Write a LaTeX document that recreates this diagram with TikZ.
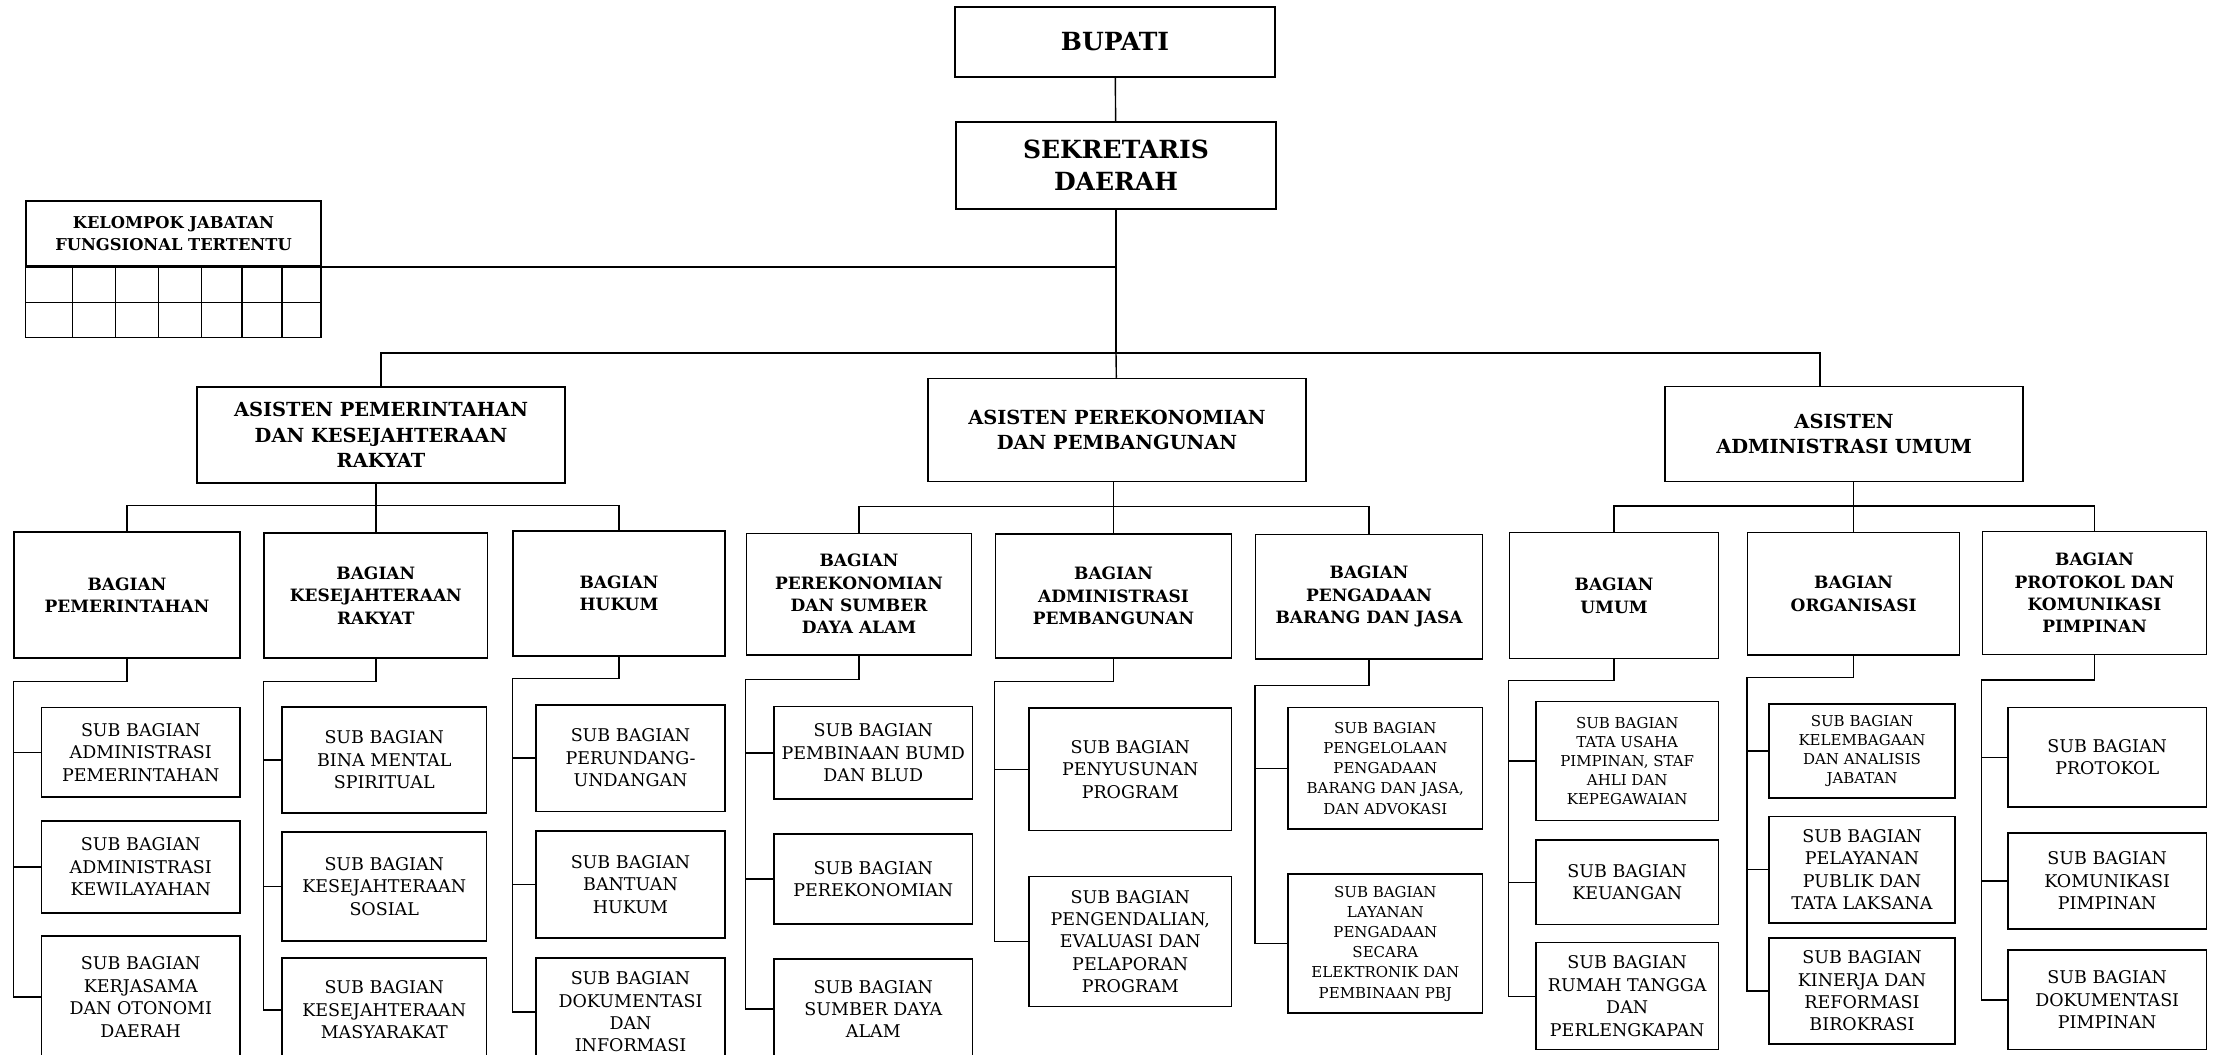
\documentclass[tikz,border=0pt]{standalone}
\usepackage{fontspec}
\setmainfont{DejaVu Serif}
\usepackage{tikz}
\usetikzlibrary{positioning,calc}

\begin{document}
\begin{tikzpicture}[
    x=1pt, y=-1pt,
    box/.style={rectangle, draw, line width=1.5pt, align=center, inner sep=1pt},
    topbox/.style={box, font=\bfseries\fontsize{25}{32}\selectfont},
    astbox/.style={box, font=\bfseries\fontsize{19.4}{25.5}\selectfont},
    unitbox/.style={box, font=\bfseries\fontsize{17}{22.3}\selectfont},
    kjfbox/.style={box, font=\bfseries\fontsize{16.3}{22.6}\selectfont},
    subbox/.style={box, font=\fontsize{17.5}{22.4}\selectfont},
    subsmall/.style={box, font=\fontsize{15}{18.8}\selectfont},
    submid/.style={box, font=\fontsize{15}{20.2}\selectfont},
    link/.style={line width=1.4pt}
]
    \useasboundingbox (0,0) rectangle (2215,1054);
    \clip (0,0) rectangle (2215,1054);

    % top
    \node[topbox, minimum width=320pt, minimum height=70pt] (bupati) at (1115,42) {BUPATI};
    \node[topbox, minimum width=320pt, minimum height=87pt] (sekda) at (1116,165.5) {SEKRETARIS\\DAERAH};
    \node[kjfbox, minimum width=295pt, minimum height=65.3pt] (kjf) at (173.5,233.4) {KELOMPOK JABATAN\\FUNGSIONAL TERTENTU};
    \coordinate (hub) at (1116,353);

    % grid under the functional group
    \draw[line width=1.5pt] (kjf.south west) rectangle (321,337.7);
    \draw[line width=1.5pt] (26,302.7) -- (321,302.7);
    \foreach \x in {72.7,115.7,158.7,201.3,242,282}
        \draw[line width=1.5pt] (\x,266) -- (\x,337.7);

    % assistants
    \node[astbox, minimum width=368pt, minimum height=96pt] (as1) at (381,435) {ASISTEN PEMERINTAHAN\\DAN KESEJAHTERAAN\\RAKYAT};
    \node[astbox, minimum width=378pt, minimum height=103pt] (as2) at (1117,430) {ASISTEN PEREKONOMIAN\\DAN PEMBANGUNAN};
    \node[astbox, minimum width=358pt, minimum height=95pt] (as3) at (1844,434) {ASISTEN\\ADMINISTRASI UMUM};

    % bagian
    \node[unitbox, minimum width=226pt, minimum height=126pt] (bg1) at (127,595) {BAGIAN\\PEMERINTAHAN};
    \node[unitbox, minimum width=223.5pt, minimum height=125pt] (bg2) at (375.8,595.5) {BAGIAN\\KESEJAHTERAAN\\RAKYAT};
    \node[unitbox, minimum width=212pt, minimum height=125pt] (bg3) at (619,593.5) {BAGIAN\\HUKUM};
    \node[unitbox, minimum width=225pt, minimum height=121.5pt] (bg4) at (859,594) {BAGIAN\\PEREKONOMIAN\\DAN SUMBER\\DAYA ALAM};
    \node[unitbox, minimum width=236pt, minimum height=124pt] (bg5) at (1113.5,596) {BAGIAN\\ADMINISTRASI\\PEMBANGUNAN};
    \node[unitbox, minimum width=226.6pt, minimum height=124.4pt] (bg6) at (1369,596.6) {BAGIAN\\PENGADAAN\\BARANG DAN JASA};
    \node[unitbox, minimum width=209pt, minimum height=126pt] (bg7) at (1614,595.7) {BAGIAN\\UMUM};
    \node[unitbox, minimum width=212pt, minimum height=122.4pt] (bg8) at (1853.6,593.8) {BAGIAN\\ORGANISASI};
    \node[unitbox, minimum width=224pt, minimum height=122.6pt] (bg9) at (2094.5,593) {BAGIAN\\PROTOKOL DAN\\KOMUNIKASI\\PIMPINAN};

    % sub bagian
    \node[subbox, minimum width=198.5pt, minimum height=89.5pt] (s11) at (140.75,752.25) {SUB BAGIAN\\ADMINISTRASI\\PEMERINTAHAN};
    \node[subbox, minimum width=198.5pt, minimum height=92pt] (s12) at (140.75,867) {SUB BAGIAN\\ADMINISTRASI\\KEWILAYAHAN};
    \node[subbox, minimum width=198.5pt, minimum height=122pt] (s13) at (140.75,997) {SUB BAGIAN\\KERJASAMA\\DAN OTONOMI\\DAERAH};

    \node[subbox, minimum width=204.5pt, minimum height=106pt] (s21) at (384.25,760) {SUB BAGIAN\\BINA MENTAL\\SPIRITUAL};
    \node[subbox, minimum width=204.5pt, minimum height=109pt] (s22) at (384.25,886.5) {SUB BAGIAN\\KESEJAHTERAAN\\SOSIAL};
    \node[subbox, minimum width=204.5pt, minimum height=104pt] (s23) at (384.25,1010) {SUB BAGIAN\\KESEJAHTERAAN\\MASYARAKAT};

    \node[subbox, minimum width=189pt, minimum height=106.5pt] (s31) at (630.5,758) {SUB BAGIAN\\PERUNDANG-\\UNDANGAN};
    \node[subbox, minimum width=189pt, minimum height=107pt] (s32) at (630.5,884.5) {SUB BAGIAN\\BANTUAN\\HUKUM};
    \node[subbox, minimum width=189pt, minimum height=108pt] (s33) at (630.5,1012) {SUB BAGIAN\\DOKUMENTASI\\DAN\\INFORMASI};

    \node[subbox, minimum width=198.7pt, minimum height=92.4pt] (s41) at (873.3,752.8) {SUB BAGIAN\\PEMBINAAN BUMD\\DAN BLUD};
    \node[subbox, minimum width=198.7pt, minimum height=90pt] (s42) at (873.3,879) {SUB BAGIAN\\PEREKONOMIAN};
    \node[subbox, minimum width=198.7pt, minimum height=100pt] (s43) at (873.3,1009) {SUB BAGIAN\\SUMBER DAYA\\ALAM};

    \node[subbox, minimum width=202.5pt, minimum height=122.6pt] (s51) at (1130.25,769.3) {SUB BAGIAN\\PENYUSUNAN\\PROGRAM};
    \node[subbox, minimum width=202.5pt, minimum height=130pt] (s52) at (1130.25,941.6) {SUB BAGIAN\\PENGENDALIAN,\\EVALUASI DAN\\PELAPORAN\\PROGRAM};

    \node[submid, minimum width=194.6pt, minimum height=121.5pt] (s61) at (1385.3,768.25) {SUB BAGIAN\\PENGELOLAAN\\PENGADAAN\\BARANG DAN JASA,\\DAN ADVOKASI};
    \node[submid, minimum width=194.6pt, minimum height=139pt] (s62) at (1385.3,943.5) {SUB BAGIAN\\LAYANAN\\PENGADAAN\\SECARA\\ELEKTRONIK DAN\\PEMBINAAN PBJ};

    \node[subsmall, minimum width=182.4pt, minimum height=118.7pt] (s71) at (1627.2,761) {SUB BAGIAN\\TATA USAHA\\PIMPINAN, STAF\\AHLI DAN\\KEPEGAWAIAN};
    \node[subbox, minimum width=182.4pt, minimum height=84.4pt] (s72) at (1627.2,882.2) {SUB BAGIAN\\KEUANGAN};
    \node[subbox, minimum width=182.4pt, minimum height=107pt] (s73) at (1627.2,996.2) {SUB BAGIAN\\RUMAH TANGGA\\DAN\\PERLENGKAPAN};

    \node[subsmall, minimum width=186pt, minimum height=94pt] (s81) at (1862,751) {SUB BAGIAN\\KELEMBAGAAN\\DAN ANALISIS\\JABATAN};
    \node[subbox, minimum width=186pt, minimum height=106.6pt] (s82) at (1862,869.7) {SUB BAGIAN\\PELAYANAN\\PUBLIK DAN\\TATA LAKSANA};
    \node[subbox, minimum width=186pt, minimum height=106.3pt] (s83) at (1862,990.9) {SUB BAGIAN\\KINERJA DAN\\REFORMASI\\BIROKRASI};

    \node[subbox, minimum width=198.8pt, minimum height=99.5pt] (s91) at (2107.2,757.25) {SUB BAGIAN\\PROTOKOL};
    \node[subbox, minimum width=198.8pt, minimum height=96pt] (s92) at (2107.2,880.8) {SUB BAGIAN\\KOMUNIKASI\\PIMPINAN};
    \node[subbox, minimum width=198.8pt, minimum height=99.7pt] (s93) at (2107.2,999.85) {SUB BAGIAN\\DOKUMENTASI\\PIMPINAN};

    % lines from the top
    \draw[link] (bupati) -- (sekda);
    \draw[link] (sekda) -- (hub);
    \draw[link] (kjf.south east) -- (kjf.south east -| hub);
    \draw[link] (as1.north) |- (hub) -| ([xshift=-24pt]as3.north);
    \draw[link] (hub) -- (as2);

    % assistants to bagian
    \draw[link] (as1.south -| bg2.north) -- (bg2.north); \draw[link] (bg1.north) -- ++(0,-26) -| (bg3.north);
    \draw[link] (as2.south -| bg5.north) -- (bg5.north); \draw[link] (bg4.north) -- ++(0,-26) -| (bg6.north);
    \draw[link] (as3.south -| bg8.north) -- (bg8.north); \draw[link] (bg7.north) -- ++(0,-26) -| (bg9.north);

    % bagian to sub bagian
    \draw[link] (bg1.south) -- ++(0,23) -| (bg1.west |- s13.west) -- (s13.west);
    \draw[link] (bg1.west |- s11.west) -- (s11.west); \draw[link] (bg1.west |- s12.west) -- (s12.west);
    \draw[link] (bg2.south) -- ++(0,23) -| (bg2.west |- s23.west) -- (s23.west);
    \draw[link] (bg2.west |- s21.west) -- (s21.west); \draw[link] (bg2.west |- s22.west) -- (s22.west);
    \draw[link] (bg3.south) -- ++(0,22) -| (bg3.west |- s33.west) -- (s33.west);
    \draw[link] (bg3.west |- s31.west) -- (s31.west); \draw[link] (bg3.west |- s32.west) -- (s32.west);
    \draw[link] (bg4.south) -- ++(0,24) -| (bg4.west |- s43.west) -- (s43.west);
    \draw[link] (bg4.west |- s41.west) -- (s41.west); \draw[link] (bg4.west |- s42.west) -- (s42.west);
    \draw[link] (bg5.south) -- ++(0,23) -| (bg5.west |- s52.west) -- (s52.west);
    \draw[link] (bg5.west |- s51.west) -- (s51.west);
    \draw[link] (bg6.south) -- ++(0,26) -| (bg6.west |- s62.west) -- (s62.west);
    \draw[link] (bg6.west |- s61.west) -- (s61.west);
    \draw[link] (bg7.south) -- ++(0,21) -| (bg7.west |- s73.west) -- (s73.west);
    \draw[link] (bg7.west |- s71.west) -- (s71.west); \draw[link] (bg7.west |- s72.west) -- (s72.west);
    \draw[link] (bg8.south) -- ++(0,22) -| (bg8.west |- s83.west) -- (s83.west);
    \draw[link] (bg8.west |- s81.west) -- (s81.west); \draw[link] (bg8.west |- s82.west) -- (s82.west);
    \draw[link] (bg9.south) -- ++(0,25) -| (bg9.west |- s93.west) -- (s93.west);
    \draw[link] (bg9.west |- s91.west) -- (s91.west); \draw[link] (bg9.west |- s92.west) -- (s92.west);
\end{tikzpicture}
\end{document}
